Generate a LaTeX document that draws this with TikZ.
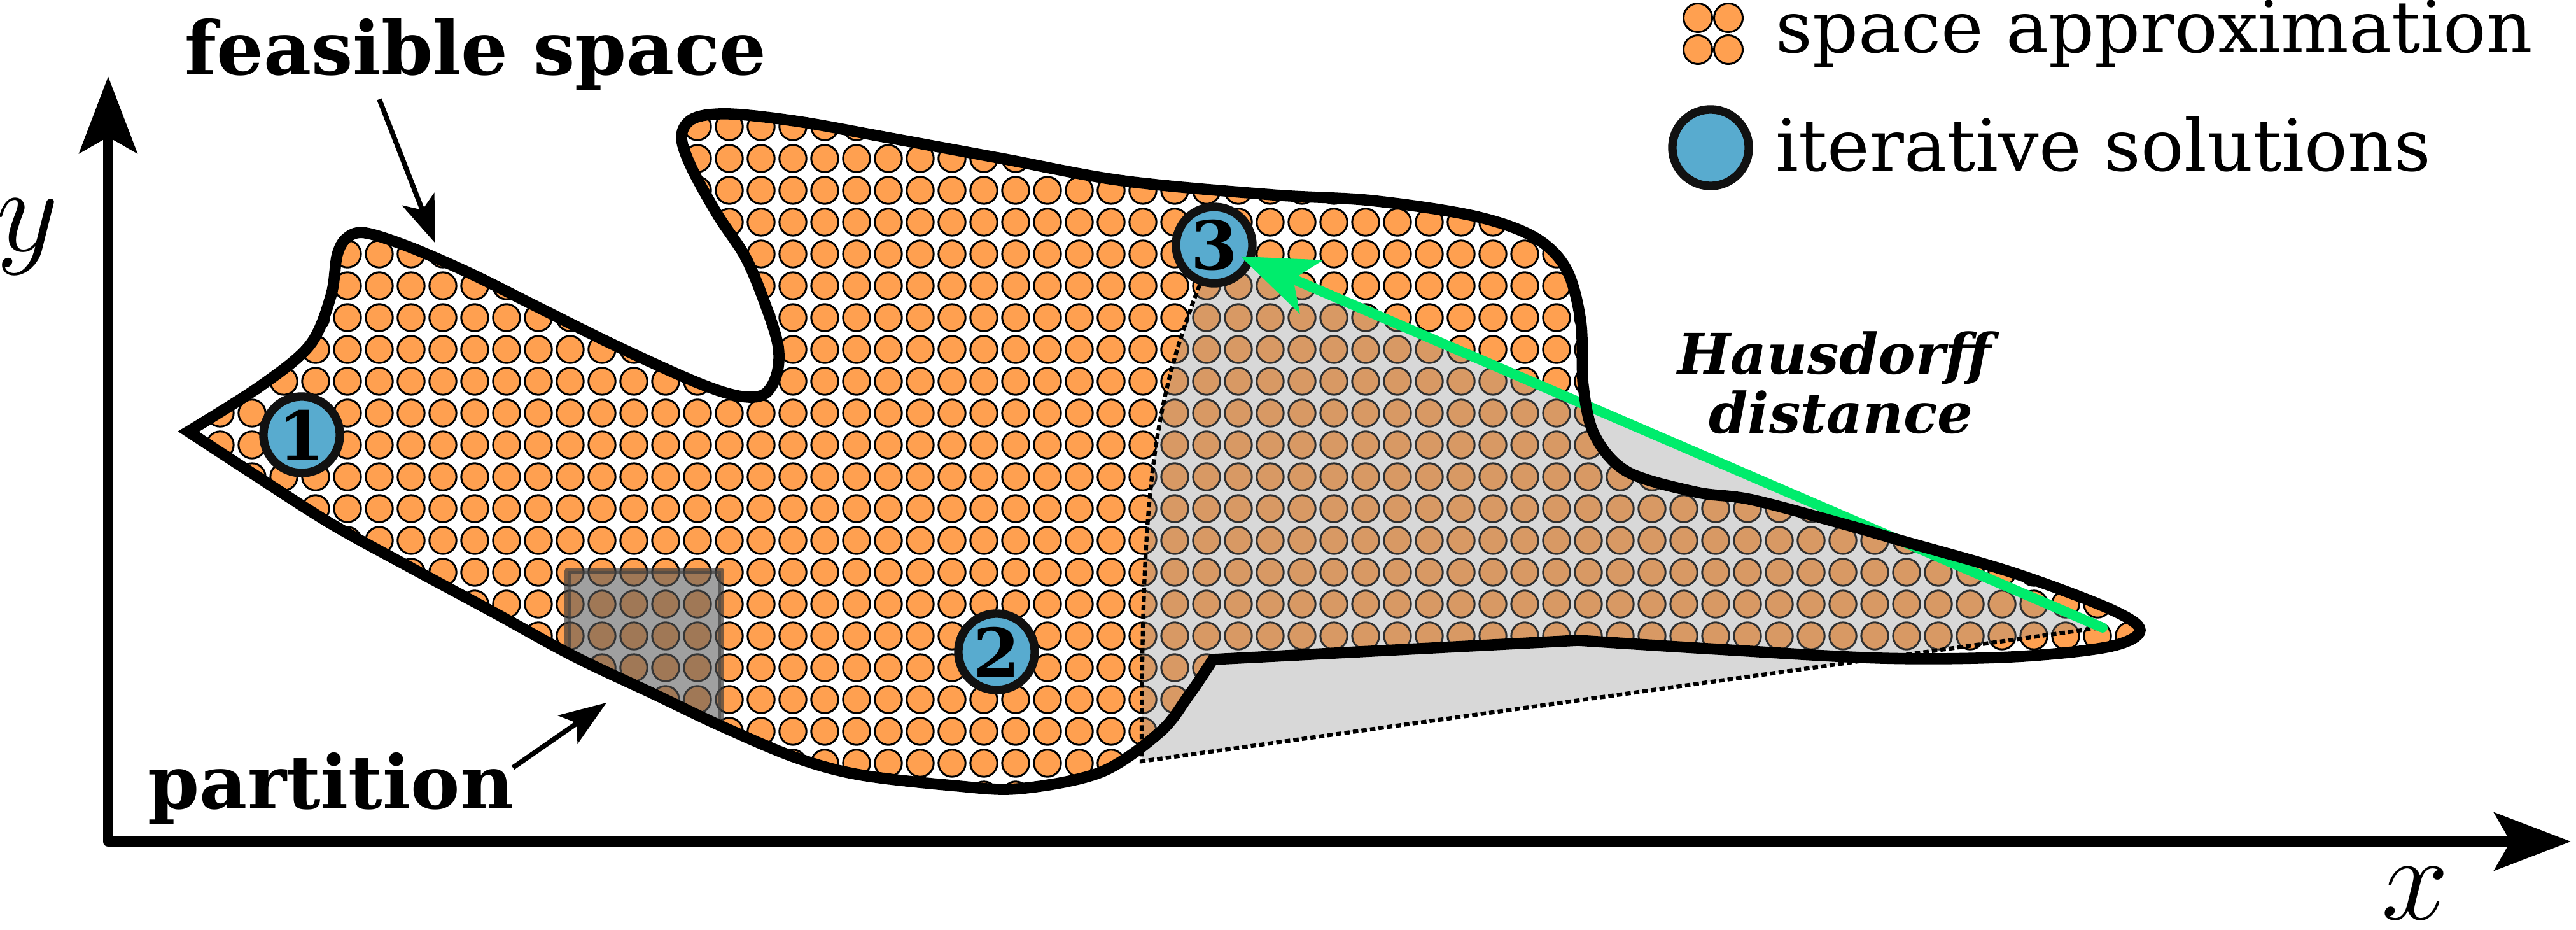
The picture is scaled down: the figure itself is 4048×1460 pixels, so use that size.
\RequirePackage{fix-cm}
\documentclass[tikz,border=0pt]{standalone}
\usepackage{fontspec}
\newfontfamily\dvs{DejaVu Serif}
\usetikzlibrary{arrows.meta}
\definecolor{dotorange}{RGB}{255,160,80}
\definecolor{solblue}{RGB}{88,171,207}
\definecolor{solline}{RGB}{17,17,17}
\definecolor{hgreen}{RGB}{0,236,108}
\definecolor{hgrey}{RGB}{141,141,141}
\definecolor{pfill}{RGB}{92,92,92}
\definecolor{pline}{RGB}{60,60,60}
\newcommand{\feasiblepath}{(296,678) -- plot[smooth, tension=0.55] coordinates {(296,678) (410,606) (487,542) (520,465) (530,400) (546,373) (575,366) (646,389) (742,431) (838,479) (965,542) (1093,600) (1160,622) (1200,620) (1220,590) (1223,545) (1204,482) (1172,405) (1128,338) (1086,262) (1071,214) (1090,186) (1147,179) (1255,191) (1383,214) (1574,249) (1765,284) (2000,306) (2155,315) (2315,339) (2410,372) (2461,422) (2484,505) (2488,607) (2506,684) (2557,741) (2665,773) (2753,785) (2900,824) (2983,848) (3161,899) (3314,956) (3363,990) (3314,1016) (3161,1032) (2957,1034) (2700,1020) (2480,1006)} -- (1906,1036) -- plot[smooth, tension=0.55] coordinates {(1906,1036) (1893,1056) (1867,1094) (1823,1150) (1730,1213) (1601,1239) (1497,1234) (1350,1217) (1250,1190) (1134,1141) (1029,1091) (902,1031) (774,961) (646,892) (519,822) (391,740) (296,678)} -- cycle}
\tikzset{
  apxdot/.style={fill=dotorange, draw=black, line width=0.85pt},
  solnode/.style={circle, draw=solline, fill=solblue, line width=3.8pt, minimum size=1.2cm, inner sep=0pt, font=\dvs\bfseries\fontsize{30}{36}\selectfont},
  bound/.style={draw=black, line width=5pt, line join=miter},
  axisline/.style={draw=black, line width=4.8pt, line join=round, {Stealth[length=1.2cm,width=0.9cm,inset=0.25cm]}-{Stealth[length=1.2cm,width=0.9cm,inset=0.25cm]}},
  annarrow/.style={draw=black, line width=2.2pt, -{Stealth[length=0.74cm,width=0.54cm,inset=0.18cm]}},
  hausarrow/.style={draw=hgreen, line width=4.5pt, line cap=round, -{Stealth[length=1.2cm,width=0.9cm,inset=0.3cm]}},
  dashline/.style={draw=black, line width=1.8pt, dash pattern=on 0.085cm off 0.05cm},
  partbox/.style={fill=pfill, fill opacity=0.58, draw=pline, draw opacity=0.7, line width=2.85pt, line join=round},
  bigbold/.style={font=\dvs\bfseries\fontsize{33}{40}\selectfont, inner sep=0pt, anchor=base west},
  legtxt/.style={font=\dvs\fontsize{32}{38}\selectfont, inner sep=0pt, anchor=base west},
  haustxt/.style={font=\dvs\bfseries\itshape\fontsize{25}{30}\selectfont, inner sep=0pt, anchor=base},
  axlabel/.style={font=\fontsize{54}{60}\selectfont, inner sep=0pt}
}
\begin{document}
\begin{tikzpicture}[x=0.01cm, y=-0.01cm]
\useasboundingbox (0,0) rectangle (4048,1460);
% space approximation grid and partition, clipped to the feasible space
\begin{scope}
  \clip \feasiblepath;
  \foreach \i in {0,...,61} {
    \foreach \j in {0,...,21} {
      \draw[apxdot] ({296+50*\i},{199+50*\j}) circle[radius=0.212cm];
    }
  }
  \draw[partbox] (892,897) rectangle (1133,1300);
\end{scope}
% Hausdorff region
\fill[hgrey, fill opacity=0.34] (1951,397) -- (3304,986) -- (1794,1196) .. controls (1794,780) and (1810,640) .. (1890,440) -- cycle;
% iterative solutions
\node[solnode] (n1) at (474,683) {1};
\node[solnode] (n2) at (1566,1024) {2};
\node[solnode] (n3) at (1908,385) {3};
\coordinate (dlow) at (1794,1196);
\coordinate (dtip) at (3300,986);
\draw[dashline] (n3.250) .. controls (1810,640) and (1794,780) .. (dlow) -- (dtip);
% Hausdorff distance arrow
\coordinate (hd) at (3304,986);
\draw[hausarrow, shorten >=0.45cm] (hd) -- (n3.center);
% feasible space boundary
\draw[bound] \feasiblepath;
% axes
\coordinate (ytop) at (170,120);
\coordinate (orig) at (170,1322);
\coordinate (xend) at (4040,1322);
\draw[axisline] (ytop) -- (orig) -- (xend);
\node[axlabel] (ylab) at (43,372) {$y$};
\node[axlabel] (xlab) at (3795,1404) {$x$};
% annotations
\node[bigbold] (fs) at (290,117) {feasible space};
\coordinate (fsfrom) at (596,156);
\coordinate (fsto) at (684,382);
\draw[annarrow] (fsfrom) -- (fsto);
\node[bigbold] (pt) at (232,1270) {partition};
\coordinate (ptfrom) at (806,1206);
\coordinate (ptto) at (953,1104);
\draw[annarrow] (ptfrom) -- (ptto);
\node[haustxt] (h1) at (2883,587) {Hausdorff};
\node[haustxt] (h2) at (2893,680) {distance};
% legend
\foreach \lx/\ly in {2668/28, 2716/28, 2668/78, 2716/78} {
  \draw[apxdot] (\lx,\ly) circle[radius=0.225cm];
}
\node[legtxt] (l1) at (2790,82) {space approximation};
\node[solnode] (lsol) at (2688,232) {};
\node[legtxt] (l2) at (2790,268) {iterative solutions};
\end{tikzpicture}
\end{document}
